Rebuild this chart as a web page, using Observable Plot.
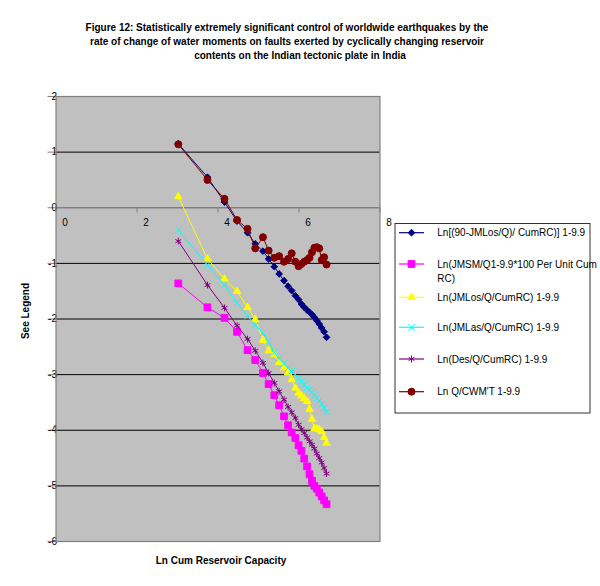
<!DOCTYPE html>
<html><head><meta charset="utf-8">
<script src="https://cdn.jsdelivr.net/npm/d3@7"></script>
<script src="https://cdn.jsdelivr.net/npm/@observablehq/plot@0.6"></script>
<style>body{margin:0;background:#fff;}</style>
</head><body><div id="chart"></div>
<script>
// Ln Cum Reservoir Capacity (shared x values)
const lnCap = [3.02, 3.74, 4.16, 4.47, 4.73, 4.92, 5.11, 5.25, 5.39, 5.51, 5.63, 5.73, 5.82, 5.91, 5.99, 6.06, 6.13, 6.20, 6.26, 6.32, 6.38, 6.44, 6.50, 6.56, 6.62, 6.68];

const lnJMLos90 = [1.15, 0.55, 0.10, -0.24, -0.45, -0.65, -0.78, -0.92, -1.06, -1.19, -1.31, -1.41, -1.49, -1.58, -1.65, -1.73, -1.79, -1.84, -1.88, -1.92, -1.97, -2.03, -2.09, -2.16, -2.23, -2.33];
const lnJMSM = [-1.36, -1.79, -1.98, -2.23, -2.56, -2.74, -2.97, -3.17, -3.37, -3.55, -3.75, -3.91, -4.04, -4.14, -4.27, -4.37, -4.51, -4.65, -4.79, -4.91, -5.00, -5.05, -5.12, -5.19, -5.26, -5.33];
const lnJMLos = [0.20, -0.92, -1.28, -1.50, -1.79, -2.01, -2.38, -2.57, -2.64, -2.78, -2.88, -2.97, -3.09, -3.24, -3.33, -3.38, -3.43, -3.48, -3.62, -3.80, -3.97, -3.97, -3.99, -4.02, -4.13, -4.23];
const lnJMLas = [-0.40, -1.03, -1.39, -1.71, -1.95, -2.11, -2.25, -2.41, -2.60, -2.71, -2.80, -2.88, -2.94, -3.00, -3.07, -3.12, -3.18, -3.24, -3.28, -3.32, -3.37, -3.42, -3.47, -3.53, -3.60, -3.67];
const lnDes = [-0.60, -1.39, -1.80, -2.12, -2.36, -2.57, -2.79, -2.97, -3.15, -3.30, -3.45, -3.58, -3.68, -3.78, -3.90, -3.98, -4.05, -4.13, -4.20, -4.26, -4.33, -4.42, -4.50, -4.58, -4.68, -4.78];
const lnQCWMT = [1.14, 0.50, 0.16, -0.22, -0.38, -0.73, -0.53, -0.77, -0.90, -0.87, -0.97, -0.92, -0.82, -0.97, -1.05, -1.01, -0.97, -0.94, -0.90, -0.80, -0.72, -0.71, -0.73, -0.94, -0.89, -1.02];

const seriesNames = [
  "Ln[(90-JMLos/Q)/ CumRC)] 1-9.9",
  "Ln(JMSM/Q1-9.9*100 Per Unit Cum RC)",
  "Ln(JMLos/Q/CumRC) 1-9.9",
  "Ln(JMLas/Q/CumRC) 1-9.9",
  "Ln(Des/Q/CumRC) 1-9.9",
  "Ln Q/CWM'T 1-9.9"
];
const seriesValues = [lnJMLos90, lnJMSM, lnJMLos, lnJMLas, lnDes, lnQCWMT];
const seriesColors = ["#000080", "#FF00FF", "#FFFF00", "#00FFFF", "#800080", "#800000"];
const seriesSymbols = ["diamond2", "square", "triangle", "times", "asterisk", "circle"];
const seriesR = [3, 3.8, 2.7, 3, 3.2, 3.5];
const seriesFilled = [true, true, true, false, false, true];

const xTicks = [0, 2, 4, 6, 8];
const yTicks = [2, 1, 0, -1, -2, -3, -4, -5, -6];

const titleLines = [
  "Figure 12: Statistically extremely significant control of worldwide earthquakes by the",
  "rate of change of water moments on faults exerted by cyclically changing reservoir",
  "contents on the Indian tectonic plate in India"
];
const xTitle = "Ln Cum Reservoir Capacity";
const yTitle = "See Legend";

const FONT = "'Liberation Sans', Arial, Helvetica, sans-serif";

const seriesMarks = seriesNames.flatMap((name, k) => {
  const pts = lnCap.map((x, i) => ({x, y: seriesValues[k][i]}));
  const c = seriesColors[k];
  return [
    Plot.line(pts, {x: "x", y: "y", stroke: c, strokeWidth: 1}),
    Plot.dot(pts, {x: "x", y: "y", symbol: () => seriesSymbols[k], r: seriesR[k],
      fill: seriesFilled[k] ? c : "none", stroke: c, strokeWidth: 1})
  ];
});

const chart = Plot.plot({
  width: 600, height: 586,
  marginLeft: 55.5, marginRight: 220.5, marginTop: 96, marginBottom: 45,
  style: {fontFamily: FONT, fontSize: "10px", background: "white", color: "#000", overflow: "visible"},
  x: {domain: [0, 8], axis: null},
  y: {domain: [-6, 2], axis: null},
  symbol: {type: "identity"},
  marks: [
    Plot.frame({fill: "#c0c0c0", stroke: "none"}),
    Plot.ruleY(yTicks.filter(d => d > -6 && d < 2 && d !== 0), {y: d => d, stroke: "#000", strokeWidth: 1}),
    Plot.ruleY([0], {y: d => d, stroke: "#808080", strokeWidth: 1.5}),
    Plot.ruleX(xTicks, {x: d => d, y1: 0, y2: 0, insetBottom: -5, stroke: "#808080"}),
    Plot.ruleY(yTicks, {y: d => d, x1: 0, x2: 0, insetLeft: -8, stroke: "#808080"}),
    Plot.text(xTicks, {x: d => d, y: 0, dy: 15, dx: 9, text: d => String(d), fill: "#000"}),
    Plot.text(yTicks, {x: 0, y: d => d, text: d => String(d), textAnchor: "end", dx: 1, fill: "#000"}),
    ...seriesMarks,
    Plot.frame({stroke: "#808080", strokeWidth: 1.2})
  ]
});

document.getElementById("chart").appendChild(chart);
const svg = d3.select(chart);

// Title
const titleX = [287, 287, 300];
const titleY = [27, 41, 55];
titleLines.forEach((t, i) => {
  svg.append("text").attr("x", titleX[i]).attr("y", titleY[i]).attr("dy", "0.35em")
    .attr("text-anchor", "middle").attr("font-weight", "bold").attr("font-size", 10)
    .attr("font-family", FONT).attr("fill", "#000").text(t);
});
// Axis titles
svg.append("text").attr("x", 221).attr("y", 560).attr("dy", "0.35em")
  .attr("text-anchor", "middle").attr("font-weight", "bold").attr("font-size", 10)
  .attr("font-family", FONT).attr("fill", "#000").text(xTitle);
svg.append("text").attr("transform", "translate(25,311) rotate(-90)").attr("dy", "0.35em")
  .attr("text-anchor", "middle").attr("font-weight", "bold").attr("font-size", 10)
  .attr("font-family", FONT).attr("fill", "#000").text(yTitle);

// Legend
const lg = svg.append("g");
lg.append("rect").attr("x", 395).attr("y", 223.5).attr("width", 195).attr("height", 189.5)
  .attr("fill", "#fff").attr("stroke", "#333").attr("stroke-width", 1);
const entryY = [232.7, 264, 297.3, 327.3, 359, 391.7];
const symMap = {diamond2: d3.symbolDiamond2, square: d3.symbolSquare, triangle: d3.symbolTriangle,
  times: d3.symbolTimes, asterisk: d3.symbolAsterisk, circle: d3.symbolCircle};
seriesNames.forEach((name, k) => {
  const y = entryY[k], c = seriesColors[k];
  lg.append("line").attr("x1", 399).attr("x2", 424).attr("y1", y).attr("y2", y)
    .attr("stroke", c).attr("stroke-width", 1.2);
  lg.append("path").attr("transform", `translate(411.5,${y})`)
    .attr("d", d3.symbol(symMap[seriesSymbols[k]], Math.PI * seriesR[k] * seriesR[k])())
    .attr("fill", seriesFilled[k] ? c : "none").attr("stroke", c).attr("stroke-width", 1);
  const lines = k === 1 ? ["Ln(JMSM/Q1-9.9*100 Per Unit Cum", "RC)"] : [name];
  lines.forEach((t, j) => {
    lg.append("text").attr("x", 437.3).attr("y", y + j * 14).attr("dy", "0.35em")
      .attr("text-anchor", "start")
      .attr("font-size", 10).attr("font-family", FONT).attr("fill", "#000").text(t);
  });
});
</script>
</body></html>
